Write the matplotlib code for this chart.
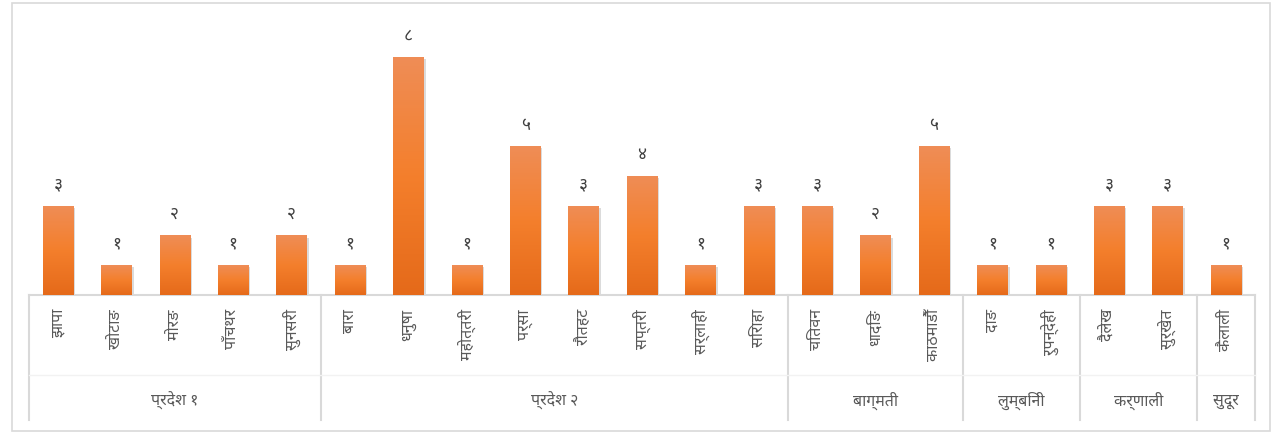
import matplotlib
matplotlib.use("Agg")
import matplotlib.pyplot as plt
import matplotlib.patheffects as pe
from matplotlib import font_manager
from matplotlib.ft2font import FT2Font
from matplotlib.colors import LinearSegmentedColormap
import numpy as np

# find installed fonts that have Devanagari glyphs, prefer Mangal-like ones
deva = set()
for f in font_manager.fontManager.ttflist:
    try:
        if 0x0915 in FT2Font(f.fname).get_charmap():
            deva.add(f.name)
    except Exception:
        pass
prefer = ["Nirmala UI", "Mangal", "Noto Sans Devanagari", "Hind", "Mukta", "Poppins"]
fonts = [p for p in prefer if p in deva] + sorted(deva - set(prefer))
plt.rcParams['font.family'] = fonts[:1] + ['DejaVu Sans']

districts = ["झापा", "खोटाङ", "मोरङ", "पाँचथर", "सुनसरी",
             "बारा", "धनुषा", "महोत्तरी", "पर्सा", "रौतहट", "सप्तरी", "सर्लाही", "सिराहा",
             "चितवन", "धादिङ", "काठमाडौँ",
             "दाङ", "रुपन्देही",
             "दैलेख", "सुर्खेत",
             "कैलाली"]
values = [3, 1, 2, 1, 2, 1, 8, 1, 5, 3, 4, 1, 3, 3, 2, 5, 1, 1, 3, 3, 1]
value_labels = ["३", "१", "२", "१", "२", "१", "८", "१", "५", "३", "४", "१", "३",
                "३", "२", "५", "१", "१", "३", "३", "१"]
provinces = ["प्रदेश १", "प्रदेश २", "बाग्मती", "लुम्बिनी", "कर्णाली", "सुदूर"]
province_sizes = [5, 8, 3, 2, 2, 1]

fig = plt.figure(figsize=(12.79, 4.33), dpi=100)
ax = fig.add_axes([0.0225, 0.3187, 0.9588, 0.6189])
axh = 0.6189 * 433  # axes height in px

x = np.arange(len(values))
w = 0.52
bars = ax.bar(x, values, width=w, color="#ee7b30", zorder=2,
              path_effects=[pe.SimplePatchShadow(offset=(1.5, -1.5), shadow_rgbFace="#999999", alpha=0.35),
                            pe.Normal()])

cmap = LinearSegmentedColormap.from_list("og", ["#e56a1a", "#f47f2c", "#ef8d56"])
grad = np.linspace(0, 1, 100).reshape(-1, 1)
for b, v in zip(bars, values):
    im = ax.imshow(grad, extent=[b.get_x(), b.get_x() + w, 0, v], origin="lower",
                   aspect="auto", cmap=cmap, zorder=3)
    im.set_clip_path(b)

for xi, v, lab in zip(x, values, value_labels):
    ax.annotate(lab, (xi, v), xytext=(0, 9), textcoords="offset points",
                ha="center", va="bottom", fontsize=12.5, color="#404040")

ax.set_xlim(-0.5, len(values) - 0.5)
ax.set_ylim(0, 9)
ax.set_yticks([])
ax.set_xticks([])
for s in ["top", "right", "left"]:
    ax.spines[s].set_visible(False)
ax.spines["bottom"].set_color("#d9d9d9")
ax.spines["bottom"].set_linewidth(1.5)

# category labels and province grouping below axis
trans = ax.get_xaxis_transform()
for xi, name in zip(x, districts):
    ax.text(xi, -14 / axh, name, rotation=90, ha="center", va="top", fontsize=11.5,
            color="#595959", transform=trans)

edges = np.concatenate([[0], np.cumsum(province_sizes)]) - 0.5
for e in edges:
    ax.plot([e, e], [0, -125 / axh], transform=trans, color="#d9d9d9", lw=1.5, clip_on=False)
ax.plot([-0.5, len(values) - 0.5], [-80 / axh, -80 / axh], transform=trans, color="#f2f2f2",
        lw=1, clip_on=False)
for i, p in enumerate(provinces):
    ax.text((edges[i] + edges[i + 1]) / 2, -106 / axh, p, ha="center", va="center",
            fontsize=11.5, color="#595959", transform=trans)

# outer chart border
fig.patches.append(plt.Rectangle((0.0094, 0.005), 0.9836, 0.988, transform=fig.transFigure,
                                 fill=False, edgecolor="#d9d9d9", lw=1.2))

fig.savefig("out.png", dpi=100)
